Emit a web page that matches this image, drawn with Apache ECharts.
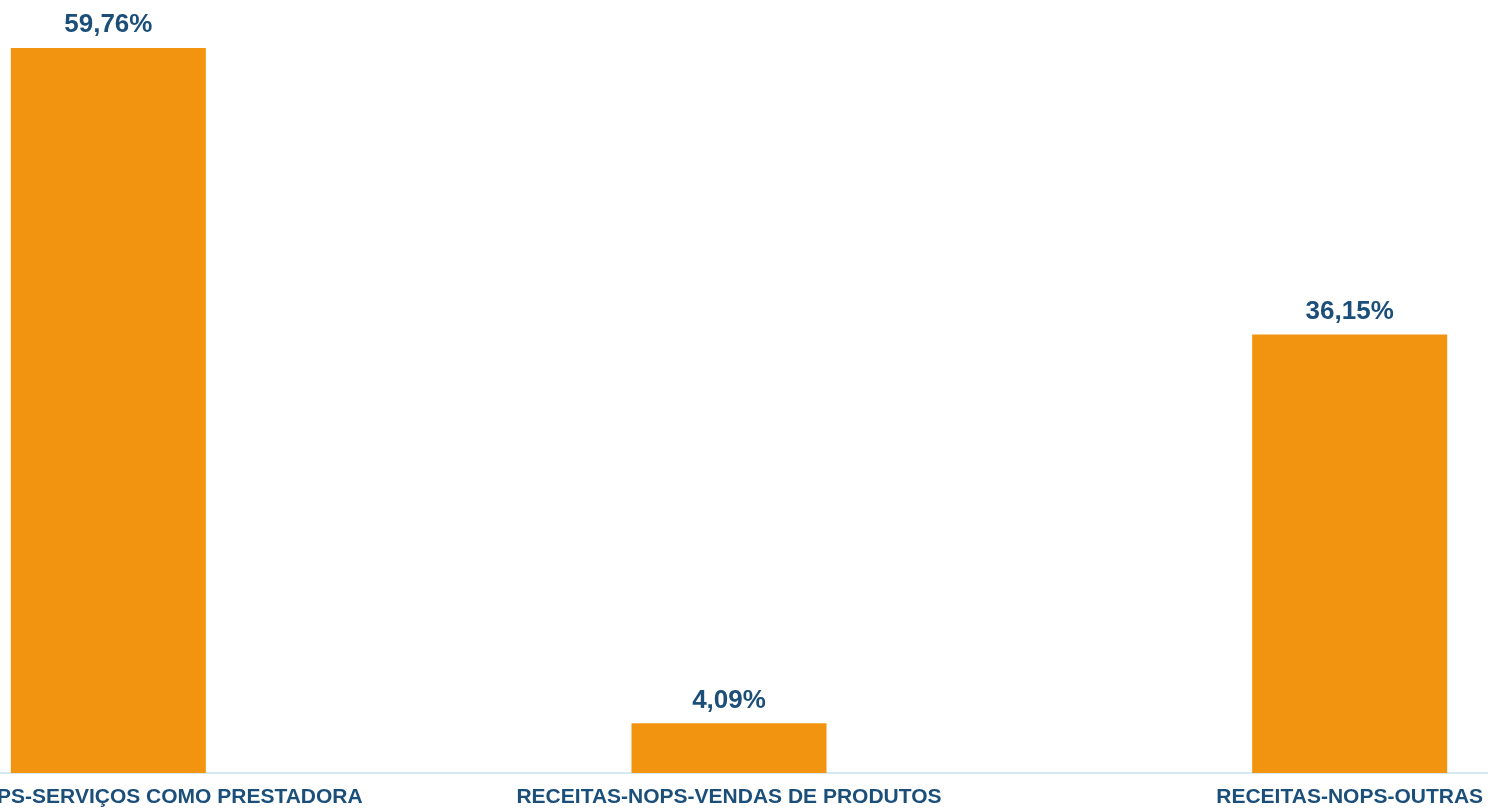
<!DOCTYPE html>
<html>
<head>
<meta charset="utf-8">
<script src="https://cdn.jsdelivr.net/npm/echarts@6/dist/echarts.min.js"></script>
<style>
  html, body { margin: 0; padding: 0; background: #fff; }
  #chart { width: 1488px; height: 811px; }
</style>
</head>
<body>
<div id="chart"></div>
<script>
  // categorias e valores (%)
  const categories = [
    'RECEITAS-NOPS-SERVIÇOS COMO PRESTADORA',
    'RECEITAS-NOPS-VENDAS DE PRODUTOS',
    'RECEITAS-NOPS-OUTRAS'
  ];
  const values = [59.76, 4.09, 36.15];

  const chart = echarts.init(document.getElementById('chart'));

  const option = {
    animation: false,
    grid: {
      left: -202, width: 1862, top: 45, bottom: 38,
      containLabel: false,
      outerBoundsMode: 'none'
    },
    xAxis: {
      type: 'category',
      data: categories,
      axisLine: { lineStyle: { color: '#D5E8F5', width: 2 } },
      axisTick: { show: false },
      axisLabel: {
        interval: 0,
        margin: 14,
        color: '#1B4F7A',
        fontFamily: 'Liberation Sans, Arial, sans-serif',
        fontWeight: 'bold',
        fontSize: 21
      }
    },
    yAxis: {
      type: 'value',
      min: 0,
      max: 60,
      show: false,
      splitLine: { show: false }
    },
    series: [{
      type: 'bar',
      data: values,
      barWidth: 195,
      itemStyle: { color: '#F2940F' },
      label: {
        show: true,
        position: 'top',
        distance: 10,
        color: '#1B4F7A',
        fontFamily: 'Liberation Sans, Arial, sans-serif',
        fontWeight: 'bold',
        fontSize: 26,
        formatter: p => p.value.toFixed(2).replace('.', ',') + '%'
      }
    }]
  };

  chart.setOption(option);
</script>
</body>
</html>
